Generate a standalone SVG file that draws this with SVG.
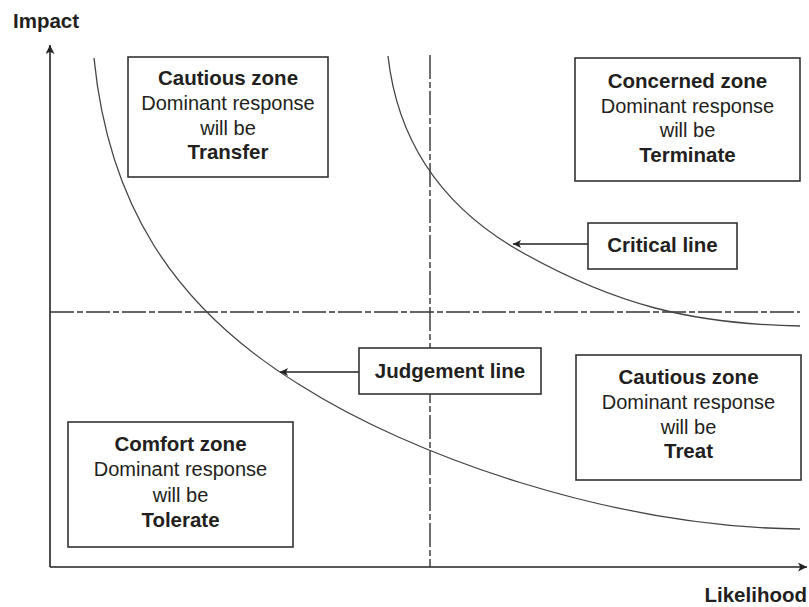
<svg xmlns="http://www.w3.org/2000/svg" width="809" height="607" viewBox="0 0 809 607">
  <defs>
    <marker id="head" viewBox="0 0 10 10" refX="10" refY="5" markerWidth="10" markerHeight="8" markerUnits="userSpaceOnUse" orient="auto">
      <path d="M0,0 L10,5 L0,10 L2.5,5 Z" fill="#222"/>
    </marker>
    <marker id="axishead" viewBox="0 0 10 10" refX="10" refY="5" markerWidth="12" markerHeight="9" markerUnits="userSpaceOnUse" orient="auto">
      <path d="M0,0 L10,5 L0,10 L2.5,5 Z" fill="#222"/>
    </marker>
  </defs>
  <style>
    text { font-family: "Liberation Sans", Arial, sans-serif; fill: #231f20; }
    .t { font-size: 20.5px; font-weight: bold; text-anchor: middle; }
    .r { font-size: 20px; text-anchor: middle; }
    .ax { font-size: 20.5px; font-weight: bold; }
    .box { fill: #fff; stroke: #333; stroke-width: 1.6; }
    .axis { stroke: #222; stroke-width: 1.6; fill: none; }
    .dash { stroke: #333; stroke-width: 1.4; fill: none; stroke-dasharray: 24 3 6 3; }
    .curve { stroke: #444; stroke-width: 1.3; fill: none; }
    .ptr { stroke: #222; stroke-width: 1.4; fill: none; }
  </style>

  <!-- axes -->
  <g id="axes">
    <line class="axis" x1="50" y1="567" x2="50" y2="45" marker-end="url(#axishead)"/>
    <line class="axis" x1="50" y1="567" x2="807" y2="567" marker-end="url(#axishead)"/>
    <text class="ax" x="13" y="28">Impact</text>
    <text class="ax" x="807" y="602" text-anchor="end">Likelihood</text>
  </g>

  <!-- quadrant dividers and response curves -->
  <g id="connectors">
    <line class="dash" x1="50" y1="312" x2="800" y2="312"/>
    <line class="dash" x1="430" y1="55" x2="430" y2="567"/>
    <path class="curve" d="M94,58 C108,200 170,305 300,385 C410,455 610,527 800,529"/>
    <path class="curve" d="M388,56 C398,145 445,210 525,254 C615,304 690,324 800,326"/>
    <line class="ptr" x1="588" y1="244" x2="513" y2="244" marker-end="url(#head)"/>
    <line class="ptr" x1="359" y1="372" x2="280" y2="372" marker-end="url(#head)"/>
  </g>

  <g id="cautious-transfer">
    <rect class="box" x="128" y="57" width="200" height="120"/>
    <text class="t" x="228" y="85">Cautious zone</text>
    <text class="r" x="228" y="110">Dominant response</text>
    <text class="r" x="228" y="135">will be</text>
    <text class="t" x="228" y="159">Transfer</text>
  </g>

  <g id="concerned-terminate">
    <rect class="box" x="575" y="58" width="225" height="123"/>
    <text class="t" x="687.5" y="88">Concerned zone</text>
    <text class="r" x="687.5" y="113">Dominant response</text>
    <text class="r" x="687.5" y="137">will be</text>
    <text class="t" x="687.5" y="162">Terminate</text>
  </g>

  <g id="critical-line">
    <rect class="box" x="588" y="223" width="149" height="46"/>
    <text class="t" x="662.5" y="252">Critical line</text>
  </g>

  <g id="judgement-line">
    <rect class="box" x="359" y="348" width="182" height="46"/>
    <text class="t" x="450" y="378">Judgement line</text>
  </g>

  <g id="cautious-treat">
    <rect class="box" x="576" y="355" width="225" height="125"/>
    <text class="t" x="688.5" y="384">Cautious zone</text>
    <text class="r" x="688.5" y="409">Dominant response</text>
    <text class="r" x="688.5" y="434">will be</text>
    <text class="t" x="688.5" y="458">Treat</text>
  </g>

  <g id="comfort-tolerate">
    <rect class="box" x="68" y="422" width="225" height="125"/>
    <text class="t" x="180.5" y="451">Comfort zone</text>
    <text class="r" x="180.5" y="476">Dominant response</text>
    <text class="r" x="180.5" y="502">will be</text>
    <text class="t" x="180.5" y="527">Tolerate</text>
  </g>
</svg>
